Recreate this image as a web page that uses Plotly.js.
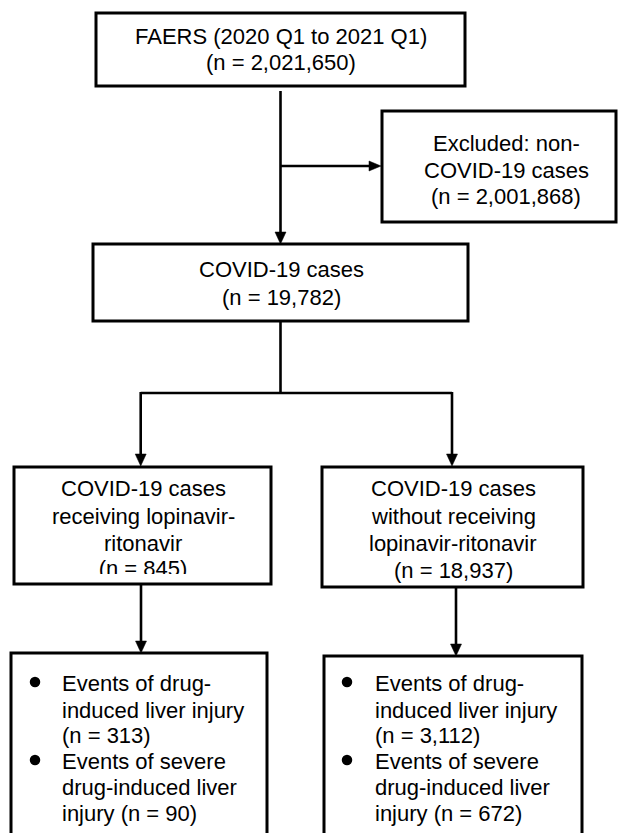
<!DOCTYPE html>
<html>
<head>
<meta charset="utf-8">
<script src="https://cdn.plot.ly/plotly-3.0.1.min.js"></script>
<style>
  html, body { margin: 0; padding: 0; background: #ffffff; }
  #chart { width: 619px; height: 833px; }
</style>
</head>
<body>
<div id="chart"></div>
<script>
// ---------------- data ----------------
const stageLabels = [
  ["FAERS (2020 Q1 to 2021 Q1)"],
  ["Excluded: non-", "COVID-19 cases"],
  ["COVID-19 cases"],
  ["COVID-19 cases", "receiving lopinavir-", "ritonavir"],
  ["COVID-19 cases", "without receiving", "lopinavir-ritonavir"]
];
const stageCounts = [2021650, 2001868, 19782, 845, 18937];
const groupNames = ["lopinavir-ritonavir", "without lopinavir-ritonavir"];
const diliCounts = [313, 3112];
const severeDiliCounts = [90, 672];

// ---------------- layout geometry ----------------
const FONT = "Liberation Sans, Arial, Helvetica, sans-serif";
const FS = 22;
const boxes = [
  {x0: 96,  x1: 465, y0: 13,  y1: 86,  cx: 281, ly: [36, 62]},
  {x0: 382, x1: 616, y0: 111, y1: 222, cx: 506, ly: [143, 170, 196]},
  {x0: 93,  x1: 468, y0: 244, y1: 321, cx: 281, ly: [269, 297]},
  {x0: 14,  x1: 271, y0: 467, y1: 584, cx: 143, ly: [488, 516, 543, 570], clipY: 574},
  {x0: 322, x1: 583, y0: 467, y1: 587, cx: 453, ly: [488, 516, 543, 570]}
];
const eventBoxes = [
  {x0: 11,  x1: 267, y0: 653, y1: 860, bx: 35,  tx: 60,  ly: [683, 710, 735, 761, 787, 813]},
  {x0: 324, x1: 582, y0: 656, y1: 860, bx: 347, tx: 373, ly: [683, 710, 735, 761, 787, 813]}
];

const fmt = v => v.toLocaleString("en-US");

const shapes = [];
const annotations = [];
const traces = [];
const LW = 2.6;

function addLine(x0, y0, x1, y1) {
  shapes.push({type: "line", xref: "x", yref: "y", x0, y0, x1, y1,
    line: {color: "#000", width: LW}, layer: "above"});
}
function arrowDown(x, y) {
  shapes.push({type: "path", xref: "x", yref: "y",
    path: `M ${x} ${y} L ${x - 5.5} ${y - 12} L ${x + 5.5} ${y - 12} Z`,
    fillcolor: "#000", line: {color: "#000", width: 0.5}, layer: "above"});
}
function arrowRight(x, y) {
  shapes.push({type: "path", xref: "x", yref: "y",
    path: `M ${x} ${y} L ${x - 12} ${y - 5} L ${x - 12} ${y + 5} Z`,
    fillcolor: "#000", line: {color: "#000", width: 0.5}, layer: "above"});
}
function addText(x, y, text, anchor) {
  annotations.push({xref: "x", yref: "y", x, y, text, showarrow: false,
    xanchor: anchor || "center", yanchor: "middle",
    font: {family: FONT, size: FS, color: "#000"}});
}

// boxes with text
boxes.forEach((b, i) => {
  const lines = stageLabels[i].concat(["(n = " + fmt(stageCounts[i]) + ")"]);
  lines.forEach((t, j) => {
    const isClipped = b.clipY && j === lines.length - 1;
    if (isClipped) {
      // drawn as a trace so the box margin can hide its lower part
      traces.push({type: "scatter", mode: "text", x: [b.cx], y: [b.ly[j]],
        text: [t], textposition: "middle center", hoverinfo: "skip",
        textfont: {family: FONT, size: FS, color: "#000"}, cliponaxis: false});
      shapes.push({type: "rect", xref: "x", yref: "y", x0: b.x0 + 2, x1: b.x1 - 2,
        y0: b.clipY, y1: b.y1 + 10, fillcolor: "#fff", line: {width: 0}, layer: "above"});
    } else {
      addText(b.cx, b.ly[j], t);
    }
  });
  shapes.push({type: "rect", xref: "x", yref: "y", x0: b.x0, x1: b.x1, y0: b.y0, y1: b.y1,
    line: {color: "#000", width: 3}, fillcolor: "rgba(0,0,0,0)", layer: "above"});
});

// event boxes
eventBoxes.forEach((b, i) => {
  const lines = ["Events of drug-", "induced liver injury", "(n = " + fmt(diliCounts[i]) + ")",
                 "Events of severe", "drug-induced liver", "injury (n = " + fmt(severeDiliCounts[i]) + ")"];
  lines.forEach((t, j) => addText(b.tx, b.ly[j], t, "left"));
  traces.push({type: "scatter", mode: "markers", name: groupNames[i],
    x: [b.bx, b.bx], y: [b.ly[0] - 1, b.ly[3] - 1], hoverinfo: "skip",
    marker: {symbol: "circle", size: 10.5, color: "#000"}});
  shapes.push({type: "rect", xref: "x", yref: "y", x0: b.x0, x1: b.x1, y0: b.y0, y1: b.y1,
    line: {color: "#000", width: 3}, fillcolor: "rgba(0,0,0,0)", layer: "above"});
});

// connectors
const cx = 280.5;
addLine(cx, 91, cx, 233);
arrowDown(cx, 244);
addLine(cx, 166, 370, 166);
arrowRight(381, 166);
addLine(cx, 321, cx, 393);
addLine(140.7, 393, 452, 393);
addLine(140.7, 392, 140.7, 455);
arrowDown(140.7, 466);
addLine(452, 392, 452, 455);
arrowDown(452, 466);
addLine(141, 584, 141, 642);
arrowDown(141, 653);
addLine(456, 587, 456, 645);
arrowDown(456, 656);

const layout = {
  width: 619, height: 833,
  margin: {l: 0, r: 0, t: 0, b: 0},
  paper_bgcolor: "#ffffff", plot_bgcolor: "#ffffff",
  showlegend: false,
  xaxis: {range: [0, 619], visible: false, fixedrange: true},
  yaxis: {range: [833, 0], visible: false, fixedrange: true},
  shapes, annotations
};

Plotly.newPlot("chart", traces, layout, {staticPlot: true, displayModeBar: false});
</script>
</body>
</html>
